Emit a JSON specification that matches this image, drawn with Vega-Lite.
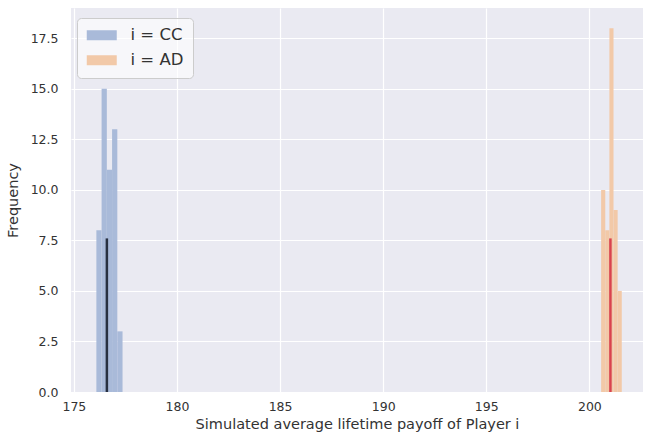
{
  "$schema": "https://vega.github.io/schema/vega-lite/v6.json",
  "autosize": {"type": "none"},
  "width": 572,
  "height": 384,
  "padding": {"left": 71, "top": 8, "right": 2, "bottom": 45},
  "background": "white",
  "config": {
    "font": "DejaVu Sans",
    "view": {"fill": "#EAEAF2", "stroke": null},
    "axis": {
      "domain": false,
      "ticks": false,
      "grid": true,
      "gridColor": "white",
      "gridWidth": 1.2,
      "labelColor": "#333333",
      "titleColor": "#333333",
      "labelFont": "DejaVu Sans",
      "titleFont": "DejaVu Sans",
      "labelFontSize": 12.5,
      "titleFontSize": 14.5,
      "titleFontWeight": "normal"
    }
  },
  "datasets": {
    "bins": [
      {"group": "i = CC", "start": 176.09, "end": 176.344, "count": 8},
      {"group": "i = CC", "start": 176.344, "end": 176.598, "count": 15},
      {"group": "i = CC", "start": 176.598, "end": 176.852, "count": 11},
      {"group": "i = CC", "start": 176.852, "end": 177.106, "count": 13},
      {"group": "i = CC", "start": 177.106, "end": 177.36, "count": 3},
      {"group": "i = AD", "start": 200.57, "end": 200.77, "count": 10},
      {"group": "i = AD", "start": 200.77, "end": 200.97, "count": 8},
      {"group": "i = AD", "start": 200.97, "end": 201.17, "count": 18},
      {"group": "i = AD", "start": 201.17, "end": 201.37, "count": 9},
      {"group": "i = AD", "start": 201.37, "end": 201.57, "count": 5}
    ],
    "means": [
      {"group": "i = CC", "value": 176.6, "top": 7.6},
      {"group": "i = AD", "value": 201.02, "top": 7.6}
    ]
  },
  "layer": [
    {
      "data": {"name": "bins"},
      "mark": {"type": "bar", "opacity": 1},
      "encoding": {
        "x": {
          "field": "start",
          "type": "quantitative",
          "scale": {"domain": [174.86, 202.6], "nice": false, "zero": false},
          "axis": {
            "values": [175, 180, 185, 190, 195, 200],
            "format": "d",
            "labelPadding": 8,
            "titlePadding": 5
          },
          "title": "Simulated average lifetime payoff of Player i"
        },
        "x2": {"field": "end"},
        "y": {
          "field": "count",
          "type": "quantitative",
          "scale": {"domain": [0, 19.0], "nice": false},
          "axis": {
            "values": [0, 2.5, 5, 7.5, 10, 12.5, 15, 17.5],
            "format": ".1f",
            "labelPadding": 13,
            "titlePadding": 10
          },
          "title": "Frequency"
        },
        "y2": {"datum": 0},
        "color": {
          "field": "group",
          "type": "nominal",
          "scale": {"domain": ["i = CC", "i = AD"], "range": ["#A9BAD9", "#F2C9A8"]},
          "legend": {
            "title": null,
            "orient": "none",
            "legendX": 6,
            "legendY": 10,
            "symbolType": "M-1,-0.667H3V0.667H-1Z",
            "symbolSize": 225,
            "symbolStrokeWidth": 0,
            "labelFontSize": 16.5,
            "labelFont": "DejaVu Sans",
            "labelColor": "#333333",
            "labelOffset": 28,
            "rowPadding": 8,
            "padding": 9,
            "fillColor": "rgba(255,255,255,0.6)",
            "strokeColor": "#CCCCCC",
            "cornerRadius": 4
          }
        }
      }
    },
    {
      "data": {"name": "means"},
      "mark": {"type": "rule", "strokeWidth": 2.5},
      "encoding": {
        "x": {"field": "value", "type": "quantitative"},
        "y": {"field": "top", "type": "quantitative"},
        "y2": {"datum": 0},
        "color": {
          "field": "group",
          "type": "nominal",
          "scale": {"domain": ["i = CC", "i = AD"], "range": ["#283040", "#D9434E"]},
          "legend": null
        }
      }
    }
  ],
  "resolve": {"scale": {"color": "independent"}}
}
